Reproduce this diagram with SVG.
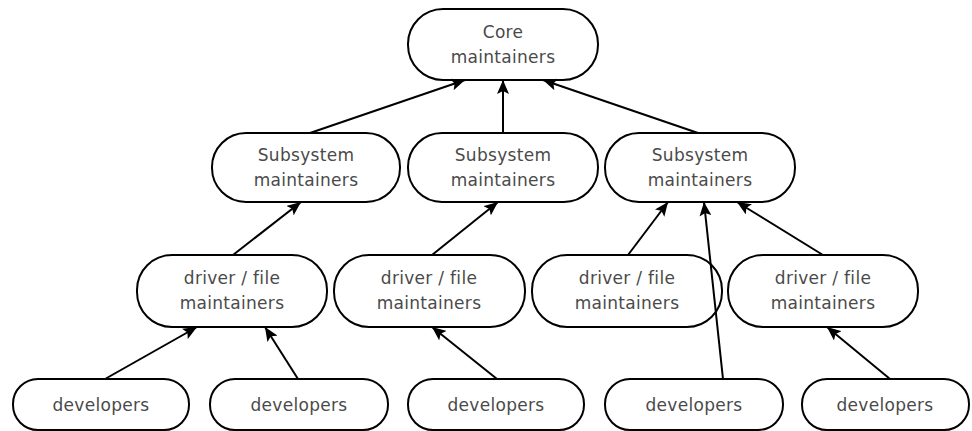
<svg xmlns="http://www.w3.org/2000/svg" width="972" height="431" viewBox="0 0 972 431">
<defs>
<style>
.n rect{fill:#fff;stroke:#000;stroke-width:2}
.n text{font-family:"DejaVu Sans",sans-serif;font-size:17px;fill:#4a4a4a;text-anchor:middle;letter-spacing:0.3px}
.c line{stroke:#000;stroke-width:2}
</style>
<marker id="ah" viewBox="0 0 14 12" refX="14" refY="6" markerWidth="14" markerHeight="12" markerUnits="userSpaceOnUse" orient="auto">
<path d="M0,0 L14,6 L0,12 L3,6 Z" fill="#000"/>
</marker>
</defs>
<rect width="972" height="431" fill="#fff"/>
<g id="core" class="n"><rect x="408" y="9" width="190" height="71" rx="35"/><text x="503" y="38">Core</text><text x="503" y="63">maintainers</text></g>
<g id="sub1" class="n"><rect x="212" y="133" width="188" height="69" rx="34"/><text x="306" y="161">Subsystem</text><text x="306" y="186">maintainers</text></g>
<g id="sub2" class="n"><rect x="408" y="133" width="190" height="69" rx="34"/><text x="503" y="161">Subsystem</text><text x="503" y="186">maintainers</text></g>
<g id="sub3" class="n"><rect x="605" y="133" width="190" height="69" rx="34"/><text x="700" y="161">Subsystem</text><text x="700" y="186">maintainers</text></g>
<g id="drv1" class="n"><rect x="137" y="255" width="190" height="72" rx="35"/><text x="232" y="284">driver / file</text><text x="232" y="309">maintainers</text></g>
<g id="drv2" class="n"><rect x="334" y="255" width="191" height="72" rx="35"/><text x="429" y="284">driver / file</text><text x="429" y="309">maintainers</text></g>
<g id="drv3" class="n"><rect x="532" y="255" width="190" height="72" rx="35"/><text x="627" y="284">driver / file</text><text x="627" y="309">maintainers</text></g>
<g id="drv4" class="n"><rect x="728" y="255" width="190" height="72" rx="35"/><text x="823" y="284">driver / file</text><text x="823" y="309">maintainers</text></g>
<g id="dev1" class="n"><rect x="13" y="379" width="176" height="51" rx="25"/><text x="101" y="411">developers</text></g>
<g id="dev2" class="n"><rect x="210" y="379" width="178" height="51" rx="25"/><text x="299" y="411">developers</text></g>
<g id="dev3" class="n"><rect x="408" y="379" width="176" height="51" rx="25"/><text x="496" y="411">developers</text></g>
<g id="dev4" class="n"><rect x="605" y="379" width="178" height="51" rx="25"/><text x="694" y="411">developers</text></g>
<g id="dev5" class="n"><rect x="802" y="379" width="167" height="51" rx="25"/><text x="885" y="411">developers</text></g>
<g id="connectors" class="c">
<line x1="310" y1="133" x2="465" y2="80" marker-end="url(#ah)"/>
<line x1="503" y1="133" x2="503" y2="80" marker-end="url(#ah)"/>
<line x1="698" y1="133" x2="543" y2="80" marker-end="url(#ah)"/>
<line x1="233" y1="255" x2="301" y2="202" marker-end="url(#ah)"/>
<line x1="432" y1="255" x2="498" y2="202" marker-end="url(#ah)"/>
<line x1="628" y1="255" x2="668" y2="202" marker-end="url(#ah)"/>
<line x1="723" y1="379" x2="704" y2="202" marker-end="url(#ah)"/>
<line x1="823" y1="255" x2="737" y2="202" marker-end="url(#ah)"/>
<line x1="105" y1="379" x2="197" y2="327" marker-end="url(#ah)"/>
<line x1="298" y1="379" x2="265" y2="327" marker-end="url(#ah)"/>
<line x1="497" y1="379" x2="432" y2="327" marker-end="url(#ah)"/>
<line x1="890" y1="379" x2="827" y2="327" marker-end="url(#ah)"/>
</g>
</svg>
